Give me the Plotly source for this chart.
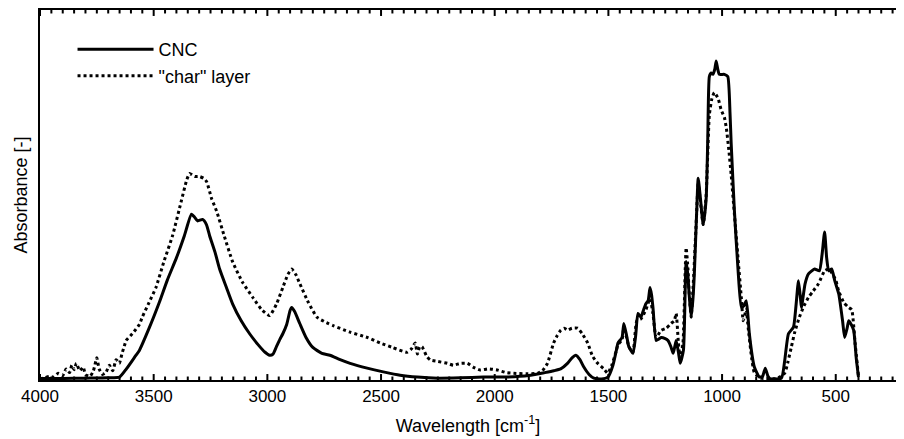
import plotly.graph_objects as go

# ---- data ----
cnc_wn = [4000, 3900, 3800, 3700, 3650, 3620, 3580, 3563, 3520, 3475, 3440, 3400, 3365, 3334, 3320,
          3307, 3285, 3268, 3254, 3230, 3210, 3180, 3153, 3115, 3078, 3040, 3010, 2990, 2975, 2960,
          2945, 2932, 2915, 2900, 2893, 2880, 2857, 2830, 2800, 2760, 2725, 2680, 2636, 2561, 2490,
          2416, 2340, 2250, 2150, 2050, 1950, 1850, 1780, 1740, 1710, 1680, 1660, 1643, 1625, 1608,
          1585, 1564, 1530, 1502, 1480, 1465, 1458, 1440, 1432, 1420, 1410, 1392, 1380, 1370, 1357,
          1345, 1335, 1325, 1317, 1310, 1304, 1290, 1280, 1268, 1250, 1238, 1225, 1215, 1208, 1202,
          1192, 1184, 1170, 1162, 1158, 1150, 1145, 1136, 1128, 1122, 1112, 1105, 1095, 1083, 1070,
          1063, 1056, 1048, 1040, 1032, 1026, 1019, 1012, 990, 975, 965, 960, 946, 930, 915,
          905, 894, 887, 880, 858, 836, 822, 810, 798, 790, 739, 725, 708, 686, 675,
          664, 655, 651, 635, 620, 593, 572, 560, 549, 540, 531, 518, 505, 487, 470,
          461, 450, 443, 432, 421, 410, 400]
cnc_abs = [0.004, 0.004, 0.005, 0.006, 0.008, 0.03, 0.065, 0.08, 0.14, 0.21, 0.27, 0.33, 0.39, 0.448, 0.44,
           0.43, 0.434, 0.42, 0.39, 0.345, 0.30, 0.25, 0.206, 0.16, 0.125, 0.095, 0.075, 0.067, 0.07, 0.09,
           0.11, 0.125, 0.15, 0.188, 0.196, 0.185, 0.152, 0.115, 0.088, 0.072, 0.067, 0.055, 0.045, 0.032, 0.022,
           0.013, 0.008, 0.005, 0.006, 0.008, 0.008, 0.012, 0.02, 0.025, 0.03, 0.045, 0.06, 0.067, 0.055, 0.035,
           0.015, 0.005, 0.003, 0.008, 0.04, 0.08, 0.10, 0.115, 0.153, 0.12, 0.09, 0.072, 0.12, 0.18, 0.17,
           0.19, 0.206, 0.215, 0.25, 0.23, 0.196, 0.107, 0.11, 0.115, 0.112, 0.107, 0.09, 0.072, 0.09, 0.107,
           0.075, 0.045, 0.08, 0.25, 0.32, 0.28, 0.233, 0.17, 0.22, 0.287, 0.45, 0.545, 0.49, 0.42, 0.49,
           0.65, 0.82, 0.83, 0.826, 0.84, 0.862, 0.84, 0.826, 0.826, 0.82, 0.72, 0.64, 0.46, 0.30, 0.196,
           0.20, 0.214, 0.18, 0.125, 0.035, 0.008, 0.01, 0.032, 0.01, 0.004, 0.005, 0.05, 0.125, 0.143, 0.20,
           0.268, 0.22, 0.196, 0.26, 0.287, 0.30, 0.295, 0.34, 0.40, 0.33, 0.295, 0.30, 0.27, 0.233, 0.16,
           0.115, 0.14, 0.16, 0.15, 0.134, 0.06, 0.008]

char_wn = [4000, 3980, 3960, 3940, 3920, 3900, 3885, 3870, 3860, 3850, 3840, 3825, 3810, 3800, 3780,
           3765, 3750, 3740, 3725, 3710, 3695, 3680, 3665, 3651, 3640, 3630, 3621, 3594, 3563, 3550,
           3520, 3490, 3455, 3417, 3380, 3355, 3342, 3320, 3298, 3280, 3267, 3245, 3223, 3190, 3153,
           3110, 3064, 3025, 2990, 2960, 2932, 2910, 2893, 2875, 2857, 2820, 2782, 2740, 2711, 2640,
           2561, 2504, 2450, 2385, 2365, 2350, 2340, 2330, 2320, 2300, 2283, 2250, 2208, 2182, 2150,
           2120, 2095, 2063, 2030, 1988, 1950, 1917, 1860, 1812, 1790, 1768, 1741, 1725, 1710, 1695,
           1680, 1660, 1635, 1615, 1591, 1570, 1547, 1520, 1503, 1485, 1465, 1458, 1440, 1432, 1420,
           1410, 1392, 1375, 1357, 1335, 1317, 1304, 1290, 1268, 1245, 1224, 1210, 1202, 1192, 1184,
           1172, 1162, 1158, 1150, 1145, 1136, 1125, 1112, 1105, 1095, 1083, 1070, 1056, 1045, 1034,
           1017, 1004, 990, 981, 970, 960, 946, 930, 915, 907, 894, 885, 870, 858, 830,
           800, 760, 725, 710, 695, 680, 660, 640, 620, 600, 576, 549, 530, 518, 500,
           487, 465, 443, 430, 415, 400]
char_abs = [0.003, 0.006, 0.01, 0.008, 0.018, 0.012, 0.03, 0.02, 0.04, 0.028, 0.045, 0.025, 0.035, 0.015, 0.01,
            0.025, 0.06, 0.03, 0.015, 0.02, 0.04, 0.025, 0.055, 0.045, 0.07, 0.09, 0.107, 0.125, 0.15, 0.17,
            0.21, 0.25, 0.32, 0.39, 0.48, 0.54, 0.558, 0.55, 0.55, 0.545, 0.536, 0.49, 0.456, 0.39, 0.32,
            0.265, 0.223, 0.19, 0.174, 0.205, 0.25, 0.285, 0.30, 0.285, 0.26, 0.21, 0.17, 0.155, 0.147, 0.13,
            0.115, 0.10, 0.088, 0.075, 0.085, 0.10, 0.07, 0.09, 0.09, 0.065, 0.054, 0.05, 0.045, 0.04, 0.045,
            0.045, 0.035, 0.027, 0.03, 0.027, 0.02, 0.018, 0.017, 0.018, 0.025, 0.045, 0.10, 0.12, 0.134, 0.14,
            0.135, 0.14, 0.14, 0.125, 0.10, 0.065, 0.045, 0.03, 0.018, 0.04, 0.08, 0.095, 0.11, 0.14, 0.115,
            0.09, 0.075, 0.16, 0.165, 0.19, 0.22, 0.18, 0.115, 0.134, 0.14, 0.153, 0.16, 0.18, 0.10, 0.06,
            0.10, 0.30, 0.357, 0.30, 0.24, 0.17, 0.28, 0.45, 0.53, 0.48, 0.42, 0.50, 0.716, 0.76, 0.777,
            0.76, 0.73, 0.71, 0.68, 0.62, 0.555, 0.45, 0.33, 0.22, 0.16, 0.19, 0.14, 0.06, 0.02, 0.005,
            0.004, 0.004, 0.018, 0.05, 0.09, 0.13, 0.17, 0.20, 0.223, 0.24, 0.26, 0.295, 0.30, 0.29, 0.27,
            0.24, 0.21, 0.196, 0.19, 0.10, 0.01]

major_ticks = [4000, 3500, 3000, 2500, 2000, 1500, 1000, 500]
tick_labels = ["4000", "3500", "3000", "2500", "2000", "1500", "1000", "500"]
minor_ticks = list(range(4000, 240, -50))

X_RANGE = [4000, 235]
FONT = "Liberation Sans, Arial, Helvetica, sans-serif"

fig = go.Figure()
fig.add_trace(go.Scatter(x=cnc_wn, y=cnc_abs, mode="lines", name="CNC",
                         line=dict(color="black", width=3, shape="spline", smoothing=0.5)))
fig.add_trace(go.Scatter(x=char_wn, y=char_abs, mode="lines", name='"char" layer',
                         line=dict(color="black", width=3, dash="dot", shape="spline", smoothing=0.5)))

# inward tick marks on bottom and top edges, placed through the x axis scale
PLOT_H = 372.0
for v in minor_ticks:
    frac = (6.0 if v in major_ticks else 3.5) / PLOT_H
    for y0, y1 in ((0, frac), (1 - frac, 1)):
        fig.add_shape(type="line", xref="x", yref="paper", x0=v, x1=v, y0=y0, y1=y1,
                      line=dict(color="black", width=2), layer="above")

# the page body keeps its default 8px margin, so the figure is 8px smaller
fig.update_layout(
    width=896, height=431,
    margin=dict(l=32, r=8, t=0, b=59),
    paper_bgcolor="white", plot_bgcolor="white",
    font=dict(family=FONT, size=17, color="black"),
    showlegend=True,
    legend=dict(x=0.038, y=0.943, xanchor="left", yanchor="top",
                bgcolor="rgba(0,0,0,0)", borderwidth=0,
                font=dict(family=FONT, size=18, color="black"),
                itemwidth=76, tracegroupgap=0),
    xaxis=dict(
        range=X_RANGE, autorange=False,
        tickmode="array", tickvals=major_ticks, ticktext=tick_labels,
        ticks="", showline=True, linewidth=2, linecolor="black", mirror=True,
        showgrid=False, zeroline=False,
        tickfont=dict(family=FONT, size=17, color="black"),
        title=dict(text="Wavelength [cm<sup>-1</sup>]", font=dict(family=FONT, size=18, color="black"),
                   standoff=14),
    ),
    yaxis=dict(
        range=[0, 1], autorange=False,
        showticklabels=False, ticks="",
        showline=True, linewidth=2, linecolor="black", mirror=True,
        showgrid=False, zeroline=False,
        title=dict(text="Absorbance [-]", font=dict(family=FONT, size=18, color="black"), standoff=6),
    ),
)

fig.write_html("out.html", config={"displayModeBar": False})
